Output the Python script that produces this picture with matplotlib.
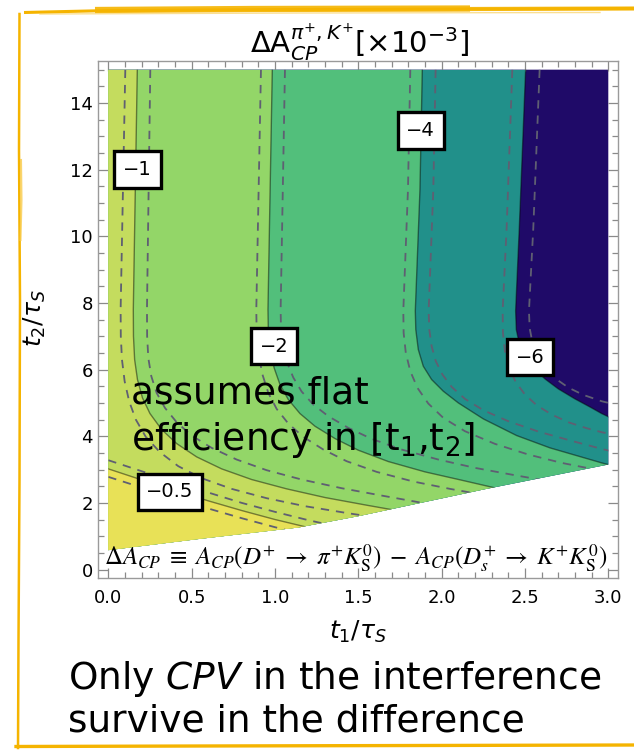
import matplotlib
matplotlib.use("Agg")
import matplotlib.pyplot as plt
from matplotlib.patches import Polygon

plt.rcParams["font.family"] = ["DejaVu Sans"]
plt.rcParams["mathtext.fontset"] = "dejavusans"
plt.rcParams["lines.scale_dashes"] = False

# ---------------------------------------------------------------- data
# lower edge of the allowed (t1, t2) region
edge_t1 = [0.0, 0.55, 1.14, 1.50, 2.26, 3.00]
edge_t2 = [0.58, 0.92, 1.26, 1.60, 2.41, 3.15]
t2_max = 15.0

# contour levels (x 10^-3) and band colours, from the top band down
levels = [-0.5, -1, -2, -4, -6]
level_labels = ["\u22120.5", "\u22121", "\u22122", "\u22124", "\u22126"]
band_colors = ["#e8e157", "#c4dc5e", "#93d668", "#52bf7b", "#21908a", "#1f0a68"]

# solid iso-lines, listed from top to bottom
c05_t1 = [0.0, 0.2, 0.4, 0.6, 0.8, 1.0, 1.2, 1.3]
c05_t2 = [3.02, 2.69, 2.37, 2.06, 1.77, 1.50, 1.26, 1.15]
c1_t1 = [0.174, 0.162, 0.150, 0.151, 0.158, 0.175, 0.205, 0.25, 0.32, 0.41, 0.53, 0.68, 0.86,
         1.07, 1.30, 1.55, 1.90]
c1_t2 = [15.0, 11.4, 7.8, 7.0, 6.3, 5.7, 5.15, 4.68, 4.2, 3.78, 3.38, 3.02, 2.7,
         2.42, 2.16, 1.93, 1.62]
c2_t1 = [0.984, 0.971, 0.958, 0.960, 0.972, 0.995, 1.03, 1.08, 1.15, 1.24, 1.36, 1.50, 1.68,
         1.90, 2.12, 2.45]
c2_t2 = [15.0, 11.4, 7.8, 7.2, 6.6, 6.05, 5.55, 5.1, 4.68, 4.3, 3.93, 3.58, 3.24,
         2.93, 2.68, 2.3]
c4_t1 = [1.884, 1.870, 1.842, 1.845, 1.860, 1.890, 1.940, 2.010, 2.100, 2.250, 2.450, 2.650,
         2.960, 3.100]
c4_t2 = [15.0, 11.4, 7.76, 7.2, 6.6, 6.1, 5.7, 5.35, 5.0, 4.52, 4.02, 3.65, 3.2, 3.02]
c6_t1 = [2.504, 2.466, 2.444, 2.448, 2.465, 2.50, 2.55, 2.62, 2.70, 2.80, 2.90, 2.96, 3.10]
c6_t2 = [15.0, 10.25, 7.76, 7.2, 6.8, 6.4, 6.05, 5.72, 5.42, 5.12, 4.85, 4.68, 4.35]

# dashed uncertainty lines on either side of each solid line
d05a_t1 = [0.0, 0.2, 0.4, 0.6, 0.8, 1.0, 1.2, 1.4, 1.6]
d05a_t2 = [3.28, 2.95, 2.63, 2.31, 2.00, 1.73, 1.48, 1.26, 1.05]
d05b_t1 = [0.0, 0.2, 0.4, 0.6, 0.8, 1.0, 1.2]
d05b_t2 = [2.78, 2.46, 2.14, 1.83, 1.54, 1.27, 1.02]
d1a_t1 = [0.102, 0.088, 0.074, 0.075, 0.082, 0.098, 0.125, 0.165, 0.225, 0.31, 0.42, 0.56,
          0.74, 0.95, 1.18, 1.45, 1.80]
d1a_t2 = [15.0, 11.4, 7.8, 7.0, 6.3, 5.65, 5.05, 4.5, 3.98, 3.52, 3.1, 2.74,
          2.42, 2.14, 1.9, 1.68, 1.42]
d1b_t1 = [0.252, 0.242, 0.232, 0.233, 0.240, 0.258, 0.29, 0.34, 0.41, 0.50, 0.62, 0.77,
          0.95, 1.16, 1.40, 1.65, 2.05]
d1b_t2 = [15.0, 11.4, 7.8, 7.0, 6.35, 5.8, 5.3, 4.85, 4.42, 4.02, 3.65, 3.3,
          2.98, 2.7, 2.44, 2.21, 1.85]
d2a_t1 = [0.916, 0.902, 0.888, 0.890, 0.902, 0.925, 0.96, 1.01, 1.08, 1.17, 1.29, 1.43,
          1.61, 1.83, 2.05, 2.35]
d2a_t2 = [15.0, 11.4, 7.8, 7.1, 6.45, 5.85, 5.3, 4.82, 4.38, 3.98, 3.6, 3.25,
          2.93, 2.64, 2.42, 2.15]
d2b_t1 = [1.060, 1.047, 1.034, 1.036, 1.048, 1.072, 1.11, 1.16, 1.23, 1.32, 1.44, 1.58,
          1.76, 1.98, 2.20, 2.45, 2.70]
d2b_t2 = [15.0, 11.4, 7.8, 7.25, 6.72, 6.22, 5.76, 5.34, 4.95, 4.6, 4.25, 3.92,
          3.6, 3.3, 3.05, 2.82, 2.6]
d4a_t1 = [1.812, 1.798, 1.770, 1.772, 1.785, 1.812, 1.855, 1.92, 2.01, 2.14, 2.32, 2.52,
          2.72, 2.90, 3.05]
d4a_t2 = [15.0, 11.4, 7.76, 7.1, 6.5, 5.95, 5.45, 4.98, 4.55, 4.15, 3.77, 3.45,
          3.2, 3.02, 2.9]
d4b_t1 = [1.964, 1.950, 1.922, 1.926, 1.94, 1.965, 2.005, 2.06, 2.14, 2.25, 2.40, 2.58,
          2.78, 2.96, 3.10]
d4b_t2 = [15.0, 11.4, 7.76, 7.2, 6.7, 6.25, 5.85, 5.48, 5.12, 4.78, 4.45, 4.14,
          3.86, 3.62, 3.45]
d6a_t1 = [2.424, 2.390, 2.366, 2.368, 2.38, 2.405, 2.445, 2.50, 2.57, 2.66, 2.76, 2.87,
          2.96, 3.10]
d6a_t2 = [15.0, 10.25, 7.76, 7.1, 6.55, 6.05, 5.62, 5.25, 4.93, 4.65, 4.42, 4.24,
          4.12, 3.98]
d6b_t1 = [2.588, 2.550, 2.524, 2.528, 2.545, 2.575, 2.62, 2.68, 2.76, 2.85, 2.96, 3.10]
d6b_t2 = [15.0, 10.25, 7.76, 7.25, 6.8, 6.4, 6.05, 5.74, 5.46, 5.24, 5.05, 4.88]

# where each level's value is printed
label_t1 = [0.37, 0.175, 0.995, 1.875, 2.53]
label_t2 = [2.33, 12.0, 6.7, 13.17, 6.37]

x_ticks = [0.0, 0.5, 1.0, 1.5, 2.0, 2.5, 3.0]
x_ticklabels = ["0.0", "0.5", "1.0", "1.5", "2.0", "2.5", "3.0"]
y_ticks = [0, 2, 4, 6, 8, 10, 12, 14]
y_ticklabels = ["0", "2", "4", "6", "8", "10", "12", "14"]

# ---------------------------------------------------------------- figure
W, H = 634, 750
fig = plt.figure(figsize=(W / 100, H / 100), dpi=100)


def fx(px):
    return px / W


def fy(py):
    return 1 - py / H


ax = fig.add_axes([fx(98.3), fy(578.3), (618.3 - 98.3) / W, (578.3 - 61) / H])
ax.set_xlim(-0.06, 3.06)
ax.set_ylim(-0.264, 15.26)

# allowed region; everything inside the plot is clipped to it
domain_xy = list(zip(edge_t1, edge_t2)) + [(edge_t1[-1], t2_max), (edge_t1[0], t2_max)]
domain = Polygon(domain_xy, closed=True, facecolor=band_colors[-1], edgecolor="none", zorder=1)
ax.add_patch(domain)

solid_lines = [(c05_t1, c05_t2), (c1_t1, c1_t2), (c2_t1, c2_t2), (c4_t1, c4_t2), (c6_t1, c6_t2)]

# stack the bands from the darkest outward: each polygon covers everything
# left of / below its iso-line
for k in range(len(levels) - 1, -1, -1):
    t1s, t2s = solid_lines[k]
    pts = [(-1.0, t2s[0])] + list(zip(t1s, t2s)) + [(t1s[-1], -1.0), (-1.0, -1.0)]
    band = Polygon(pts, closed=True, facecolor=band_colors[k], edgecolor="none", zorder=2)
    ax.add_patch(band)
    band.set_clip_path(domain)

dashed_lines = [(d05a_t1, d05a_t2), (d05b_t1, d05b_t2), (d1a_t1, d1a_t2), (d1b_t1, d1b_t2),
                (d2a_t1, d2a_t2), (d2b_t1, d2b_t2), (d4a_t1, d4a_t2), (d4b_t1, d4b_t2),
                (d6a_t1, d6a_t2), (d6b_t1, d6b_t2)]
for t1s, t2s in dashed_lines:
    (ln,) = ax.plot(t1s, t2s, color="#5f5f72", lw=1.3, linestyle=(0, (6.0, 5.0)), zorder=3)
    ln.set_clip_path(domain)

for t1s, t2s in solid_lines:
    (ln,) = ax.plot(t1s, t2s, color="black", alpha=0.45, lw=1.0, zorder=4)
    ln.set_clip_path(domain)

for txt, lx, ly in zip(level_labels, label_t1, label_t2):
    ax.text(lx, ly, txt, fontsize=14, ha="center", va="center", zorder=6,
            bbox=dict(boxstyle="square,pad=0.45", facecolor="white", edgecolor="black", linewidth=2.4))

# frame and ticks
for sp in ax.spines.values():
    sp.set_color("#9a9a9a")
    sp.set_linewidth(1.0)
ax.set_xticks(x_ticks)
ax.set_xticklabels(x_ticklabels)
ax.set_yticks(y_ticks)
ax.set_yticklabels(y_ticklabels)
ax.set_xticks([i / 10 for i in range(0, 31)], minor=True)
ax.set_yticks([i / 2 for i in range(0, 31)], minor=True)
ax.tick_params(which="both", direction="in", top=True, right=True, color="#8a8a8a", width=0.9)
ax.tick_params(which="major", length=7, labelsize=13)
ax.tick_params(which="minor", length=4)
ax.tick_params(axis="x", pad=8)
ax.tick_params(axis="y", pad=4)

# ---------------------------------------------------------------- text
fig.text(fx(360), fy(53), r"$\Delta\mathrm{A}_{CP}^{\pi^{+},K^{+}}[\times10^{-3}]$",
         fontsize=21, ha="center", va="baseline")
fig.text(fx(35), fy(318), r"$t_2/\tau_S$", fontsize=18, rotation=90, ha="center", va="center")
fig.text(fx(358), fy(632), r"$t_1/\tau_S$", fontsize=18, ha="center", va="center")

fig.text(fx(131), fy(403), "assumes flat", fontsize=27, ha="left", va="baseline", zorder=10)
fig.text(fx(131), fy(450), r"efficiency in [$\mathrm{t}_1$,$\mathrm{t}_2$]", fontsize=27,
         ha="left", va="baseline", zorder=10)

fig.text(fx(104), fy(565),
         r"$\Delta A_{CP} \;\equiv\; A_{CP}(D^{+} \;\rightarrow\; \pi^{+} K^{0}_{\mathrm{S}})"
         r" \;-\; A_{CP}(D^{+}_{s} \;\rightarrow\; K^{+} K^{0}_{\mathrm{S}})$",
         fontsize=18, math_fontfamily="stix", ha="left", va="baseline", zorder=10)

fig.text(fx(68), fy(689), r"Only $\mathit{CPV}$ in the interference", fontsize=27,
         ha="left", va="baseline")
fig.text(fx(68), fy(731), "survive in the difference", fontsize=27, ha="left", va="baseline")

# ---------------------------------------------------------------- brush frame
deco = fig.add_axes([0, 0, 1, 1], facecolor="none", zorder=20)
deco.set_xlim(0, W)
deco.set_ylim(H, 0)
deco.axis("off")
gold = "#f5b400"
deco.plot([24, 110, 300, 480, 634], [12.5, 10.5, 9.5, 9.0, 8.5], color=gold, lw=2.2, solid_capstyle="butt")
deco.plot([95, 250, 470], [10.0, 9.0, 8.5], color=gold, lw=4.5, alpha=0.9, solid_capstyle="butt")
deco.plot([470, 634], [9.0, 8.5], color=gold, lw=3.0, alpha=0.85, solid_capstyle="butt")
deco.plot([40, 300, 600], [14.0, 13.0, 12.5], color="#f9cb4a", lw=1.0, alpha=0.6)
deco.plot([19.5, 19.0, 20.0, 19.5, 18.5, 18.0], [14, 150, 300, 480, 640, 748], color=gold, lw=1.8)
deco.plot([21.0, 21.5, 20.5], [160, 200, 240], color="#f9cb4a", lw=1.5, alpha=0.8)
deco.plot([16, 200, 420, 634], [746.5, 746.0, 745.5, 745.0], color=gold, lw=2.4)

fig.savefig("out.png", dpi=100)
